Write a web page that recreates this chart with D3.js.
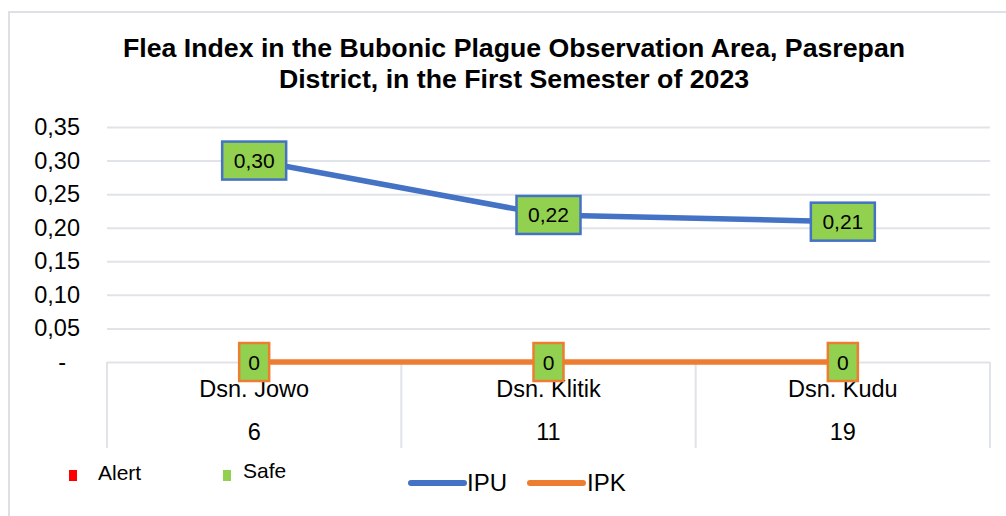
<!DOCTYPE html>
<html lang="en">

<head>
  <meta charset="UTF-8">
  <title>Flea Index</title>
  <style>
    body { margin: 0; background: #fff; }
    text { font-family: Arial, "Liberation Sans", sans-serif; fill: #000; }
    .gridlines line { stroke: #e0e3e8; stroke-width: 2; }
    .gridlines path { display: none; }
    .y.axis path, .y.axis line { display: none; }
  </style>
  <script src="https://d3js.org/d3.v7.min.js"></script>
</head>

<body>
  <svg id="chart" height="516" width="1006"></svg>
  <script>
    const titleLines = ["Flea Index in the Bubonic Plague Observation Area, Pasrepan",
      "District, in the First Semester of 2023"];
    const villages = ["Dsn. Jowo", "Dsn. Klitik", "Dsn. Kudu"];
    const counts = ["6", "11", "19"];
    const ipu = [0.30, 0.219, 0.209];
    const ipk = [0, 0, 0];
    const yTicks = [0, 0.05, 0.10, 0.15, 0.20, 0.25, 0.30, 0.35];
    const statusLegend = [{ name: "Alert", color: "#ff0000" }, { name: "Safe", color: "#92d050" }];
    const seriesLegend = [{ name: "IPU", color: "#4472c4" }, { name: "IPK", color: "#ed7d31" }];

    const svg = d3.select("svg#chart");
    const margins = { top: 127, left: 107, right: 16, bottom: 154 };
    const width = +svg.attr("width");
    const height = +svg.attr("height");
    const chartWidth = width - margins.left - margins.right;
    const chartHeight = height - margins.top - margins.bottom;

    // outer frame (only left and top edges are visible)
    svg.append("rect")
      .attr("x", 9).attr("y", 12)
      .attr("width", 1100).attr("height", 600)
      .attr("fill", "none")
      .attr("stroke", "#dde1e6")
      .attr("stroke-width", 2);

    svg.selectAll("text.title")
      .data(titleLines)
      .join("text")
      .attr("class", "title")
      .attr("x", 514)
      .attr("y", (d, i) => 57 + i * 31)
      .attr("text-anchor", "middle")
      .style("font-size", "26.7px")
      .style("font-weight", "bold")
      .text(d => d);

    const xScale = d3.scaleBand().domain(villages).range([0, chartWidth]);
    const yScale = d3.scaleLinear().domain([0, 0.35]).range([chartHeight, 0]);

    const chartArea = svg.append("g")
      .attr("transform", `translate(${margins.left},${margins.top})`);

    let gridlines = d3.axisLeft(yScale)
      .tickValues(yTicks)
      .tickSize(-chartWidth)
      .tickFormat("");
    chartArea.append("g")
      .attr("class", "y gridlines")
      .call(gridlines);

    let leftAxis = d3.axisLeft(yScale)
      .tickValues(yTicks)
      .tickSize(0)
      .tickPadding(27)
      .tickFormat(d => d === 0 ? "-" : d3.format(".2f")(d).replace(".", ","));
    let yAxisG = chartArea.append("g")
      .attr("class", "y axis")
      .call(leftAxis);
    yAxisG.selectAll("text")
      .style("font-size", "23.5px")
      .style("font-family", "Arial, 'Liberation Sans', sans-serif")
      .attr("fill", "#000")
      .attr("dx", d => d === 0 ? -14 : 0);

    // category separators below the axis
    const sepLines = chartArea.append("g").attr("class", "gridlines");
    const bounds = villages.map(v => xScale(v)).concat([chartWidth]);
    sepLines.selectAll("line")
      .data(bounds)
      .join("line")
      .attr("x1", d => d).attr("x2", d => d)
      .attr("y1", chartHeight).attr("y2", chartHeight + 86);

    const cx = v => xScale(v) + xScale.bandwidth() / 2;

    chartArea.selectAll("text.cat")
      .data(villages)
      .join("text")
      .attr("class", "cat")
      .attr("x", d => cx(d))
      .attr("y", chartHeight + 35)
      .attr("text-anchor", "middle")
      .style("font-size", "23.5px")
      .text(d => d);

    chartArea.selectAll("text.count")
      .data(counts)
      .join("text")
      .attr("class", "count")
      .attr("x", (d, i) => cx(villages[i]))
      .attr("y", chartHeight + 78)
      .attr("text-anchor", "middle")
      .style("font-size", "23.5px")
      .text(d => d);

    const line = d3.line()
      .x((d, i) => cx(villages[i]))
      .y(d => yScale(d));

    const series = [
      { name: "IPU", values: ipu, color: "#4472c4", boxW: 64, fmt: d => d3.format(".2f")(d).replace(".", ",") },
      { name: "IPK", values: ipk, color: "#ed7d31", boxW: 30, fmt: d => "0" }
    ];

    series.forEach(s => {
      chartArea.append("path")
        .datum(s.values)
        .attr("fill", "none")
        .attr("stroke", s.color)
        .attr("stroke-width", 5.5)
        .attr("d", line);
    });

    series.forEach(s => {
      const g = chartArea.selectAll(null)
        .data(s.values)
        .join("g")
        .attr("transform", (d, i) => `translate(${cx(villages[i])},${yScale(d)})`);
      g.append("rect")
        .attr("x", -s.boxW / 2).attr("y", -19)
        .attr("width", s.boxW).attr("height", 38)
        .attr("fill", "#92d050")
        .attr("stroke", s.color)
        .attr("stroke-width", 2.5);
      g.append("text")
        .attr("y", 7.5)
        .attr("text-anchor", "middle")
        .style("font-size", "21px")
        .text(d => s.fmt(d));
    });

    // legend
    const leg1 = svg.append("g");
    leg1.selectAll("rect")
      .data(statusLegend)
      .join("rect")
      .attr("x", (d, i) => 69 + i * 154)
      .attr("y", 470)
      .attr("width", 8).attr("height", 11)
      .attr("fill", d => d.color);
    leg1.selectAll("text")
      .data(statusLegend)
      .join("text")
      .attr("x", (d, i) => 98 + i * 145)
      .attr("y", (d, i) => 480 - i * 2)
      .style("font-size", "21px")
      .text(d => d.name);

    const leg2 = svg.append("g");
    leg2.selectAll("line")
      .data(seriesLegend)
      .join("line")
      .attr("x1", (d, i) => 411 + i * 119)
      .attr("x2", (d, i) => 464 + i * 119)
      .attr("y1", 483).attr("y2", 483)
      .attr("stroke", d => d.color)
      .attr("stroke-width", 6)
      .attr("stroke-linecap", "round");
    leg2.selectAll("text")
      .data(seriesLegend)
      .join("text")
      .attr("x", (d, i) => 467 + i * 120)
      .attr("y", 491)
      .style("font-size", "24px")
      .text(d => d.name);
  </script>
</body>

</html>
